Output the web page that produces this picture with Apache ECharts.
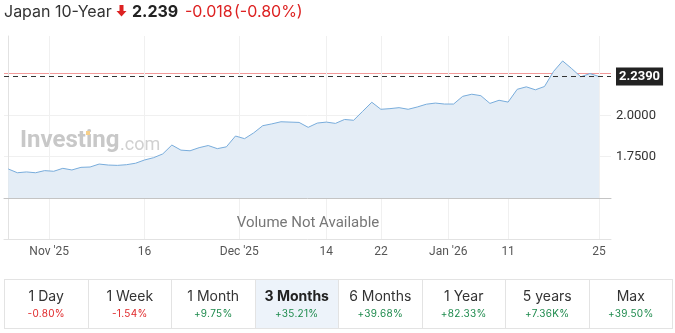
<!DOCTYPE html>
<html><head><meta charset="utf-8">
<script src="https://cdn.jsdelivr.net/npm/echarts@6/dist/echarts.min.js"></script>
<style>
html,body{margin:0;padding:0;background:#fff;width:675px;height:333px;overflow:hidden;font-family:Inter,'Noto Sans',sans-serif;}
#chart{position:absolute;left:0;top:0;width:675px;height:333px;}
.h{position:absolute;top:0;line-height:22px;font-size:16px;white-space:nowrap;}
.red{color:#dd2222;}
#btns{position:absolute;left:0;top:0;}
.cell{position:absolute;top:279px;height:48px;border:1px solid #e3e3e3;box-sizing:content-box;}
.t{position:absolute;left:0;right:0;top:8px;text-align:center;font-size:14px;line-height:16px;color:#333;}
.p{position:absolute;left:0;right:0;top:26px;text-align:center;font-size:10px;line-height:14px;letter-spacing:0.3px;}
</style></head><body>
<div id="chart"></div>
<div class="h" style="left:4px;color:#333;">Japan 10-Year</div>
<svg style="position:absolute;left:116px;top:5px" width="11" height="12" viewBox="0 0 11 12"><path d="M3.5 0 H7.5 V6 H10.5 L5.5 11.5 L0.5 6 H3.5 Z" fill="#dd2222"/></svg>
<div class="h" style="left:132px;font-weight:700;color:#222;">2.239</div>
<div class="h red" style="left:185px;">-0.018</div>
<div class="h red" style="left:234px;">(-0.80%)</div>
<div id="btns"></div>
<script>
// trading sessions (UTC dates)
const dates = [
 '2025-10-26','2025-10-27','2025-10-28','2025-10-29','2025-10-30',
 '2025-11-02','2025-11-03','2025-11-04','2025-11-05','2025-11-06',
 '2025-11-09','2025-11-10','2025-11-11','2025-11-12','2025-11-13',
 '2025-11-16','2025-11-17','2025-11-18','2025-11-19','2025-11-20',
 '2025-11-23','2025-11-24','2025-11-25','2025-11-26','2025-11-27',
 '2025-11-30','2025-12-01','2025-12-02','2025-12-03','2025-12-04',
 '2025-12-07','2025-12-08','2025-12-09','2025-12-10','2025-12-11',
 '2025-12-14','2025-12-15','2025-12-16','2025-12-17','2025-12-18',
 '2025-12-21','2025-12-22','2025-12-23','2025-12-24','2025-12-25',
 '2025-12-28','2025-12-29','2025-12-30','2025-12-31','2026-01-01',
 '2026-01-04','2026-01-05','2026-01-06','2026-01-07','2026-01-08',
 '2026-01-11','2026-01-12','2026-01-13','2026-01-14','2026-01-15',
 '2026-01-18','2026-01-19','2026-01-20','2026-01-21','2026-01-22',
 '2026-01-25'
];
const yields = [
 1.675,1.652,1.657,1.652,1.665,
 1.661,1.679,1.669,1.685,1.687,
 1.705,1.699,1.697,1.701,1.710,
 1.730,1.744,1.767,1.821,1.790,
 1.786,1.805,1.818,1.799,1.810,
 1.876,1.860,1.895,1.939,1.950,
 1.963,1.961,1.959,1.929,1.955,
 1.961,1.953,1.977,1.972,2.027,
 2.082,2.039,2.043,2.049,2.039,
 2.053,2.070,2.077,2.071,2.071,
 2.118,2.131,2.122,2.075,2.094,
 2.083,2.161,2.176,2.158,2.178,
 2.270,2.334,2.287,2.237,2.257,
 2.239
];
// x tick positions (session index) and their labels
const tickPos = [4.5, 15, 25.42, 35, 41, 48.41, 55, 65];
const tickLabels = ["Nov '25","16","Dec '25","14","22","Jan '26","11","25"];
const yTickValues = [1.75, 2.0];
const lastValue = 2.239;
const prevClose = 2.257;
const periods = ['1 Day','1 Week','1 Month','3 Months','6 Months','1 Year','5 years','Max'];
const changes = ['-0.80%','-1.54%','+9.75%','+35.21%','+39.68%','+82.33%','+7.36K%','+39.50%'];
const activePeriod = '3 Months';

// buttons
const btns = document.getElementById('btns');
periods.forEach((p, i) => {
  const c = document.createElement('div');
  c.className = 'cell';
  c.style.left = (4 + i * 83.5) + 'px';
  c.style.width = '82.5px';
  if (p === activePeriod) c.style.background = '#edf3fa';
  const t = document.createElement('div');
  t.className = 't'; t.textContent = p;
  if (p === activePeriod) { t.style.fontWeight = '700'; t.style.color = '#222'; }
  const v = document.createElement('div');
  v.className = 'p'; v.textContent = changes[i];
  v.style.color = changes[i].startsWith('-') ? '#e0282a' : '#1d8a4c';
  c.appendChild(t); c.appendChild(v); btns.appendChild(c);
});

const chart = echarts.init(document.getElementById('chart'), null, {renderer: 'canvas'});
const xMin = -0.47, xMax = 66.32;
const labelFor = v => {
  let best = 0;
  tickPos.forEach((p, i) => { if (Math.abs(p - v) < Math.abs(tickPos[best] - v)) best = i; });
  return tickLabels[best];
};
const yLabelFor = v => {
  const s = Number(v).toFixed(4);
  return Math.abs(v - lastValue) < 1e-9 ? '{hl|' + s + '}' : s;
};
const gridLineColor = '#f0f0f0';
const prevCloseColor = '#f29a9a';
// horizontal lines: the two gridlines, then the previous-close line (coloured)
const yLineValues = yTickValues.concat([prevClose]);
const yLineColors = yTickValues.map(() => gridLineColor).concat([prevCloseColor]);
const seriesData = yields.map((v, i) => [i, v]);
chart.setOption({
  animation: false,
  grid: [
    {left: 4, right: 64, top: 36, height: 162},
    {left: 4, right: 64, top: 198, height: 41}
  ],
  xAxis: [
    {type: 'value', gridIndex: 0, min: xMin, max: xMax,
     axisLine: {show: true, lineStyle: {color: '#c4c4c4', width: 1}},
     axisTick: {show: false, customValues: tickPos},
     axisLabel: {show: false, customValues: tickPos},
     splitLine: {show: true, lineStyle: {color: gridLineColor, width: 1}}},
    {type: 'value', gridIndex: 1, min: xMin, max: xMax,
     axisLine: {show: true, lineStyle: {color: '#e2e2e2', width: 1}},
     axisTick: {show: false, customValues: tickPos},
     axisLabel: {show: true, customValues: tickPos, formatter: labelFor,
       color: '#555', fontSize: 12, fontFamily: 'Roboto', margin: 7},
     splitLine: {show: true, lineStyle: {color: gridLineColor, width: 1}}}
  ],
  yAxis: [
    {type: 'value', gridIndex: 0, position: 'right', min: 1.498, max: 2.486,
     axisLine: {show: true, lineStyle: {color: '#e2e2e2'}},
     axisTick: {show: false, customValues: yLineValues},
     axisLabel: {show: true, customValues: yTickValues.concat([lastValue]), formatter: yLabelFor,
       color: '#333', fontSize: 13, fontFamily: 'Roboto', margin: 5,
       rich: {hl: {backgroundColor: '#222', color: '#fff', fontWeight: 'bold', fontSize: 13,
         fontFamily: 'Roboto', padding: [3, 3, 2, 3]}}},
     splitLine: {show: true, lineStyle: {color: yLineColors, width: 1}}},
    {type: 'value', gridIndex: 1, position: 'right', min: 0, max: 1,
     axisLine: {show: true, lineStyle: {color: '#e2e2e2'}},
     axisTick: {show: false}, axisLabel: {show: false}, splitLine: {show: false}}
  ],
  graphic: [
    {type: 'text', left: 20, top: 129, z: 1,
     style: {text: 'Investing', font: 'bold 24px Roboto', fill: '#c8c8c8'}},
    {type: 'rect', shape: {x: 86, y: 131, width: 4, height: 4}, z: 1,
     style: {fill: '#f7d08a'}},
    {type: 'text', left: 120, top: 136, z: 1,
     style: {text: '.com', font: '18px Roboto', fill: '#d0d0d0'}},
    {type: 'text', x: 308, y: 223, z: 1,
     style: {text: 'Volume Not Available', font: '15px Roboto', fill: '#777',
       textAlign: 'center', textVerticalAlign: 'middle'}}
  ],
  series: [
    {
      type: 'line', xAxisIndex: 0, yAxisIndex: 0,
      data: seriesData,
      showSymbol: false, smooth: false,
      lineStyle: {color: '#78acdb', width: 1},
      areaStyle: {color: '#e4edf6', opacity: 1, origin: 'start'}
    },
    {
      type: 'line', xAxisIndex: 0, yAxisIndex: 0,
      data: [[xMin, lastValue], [xMax, lastValue]], showSymbol: false,
      lineStyle: {color: '#333', width: 1, type: [5, 4]}
    }
  ]
});
</script>
</body></html>
